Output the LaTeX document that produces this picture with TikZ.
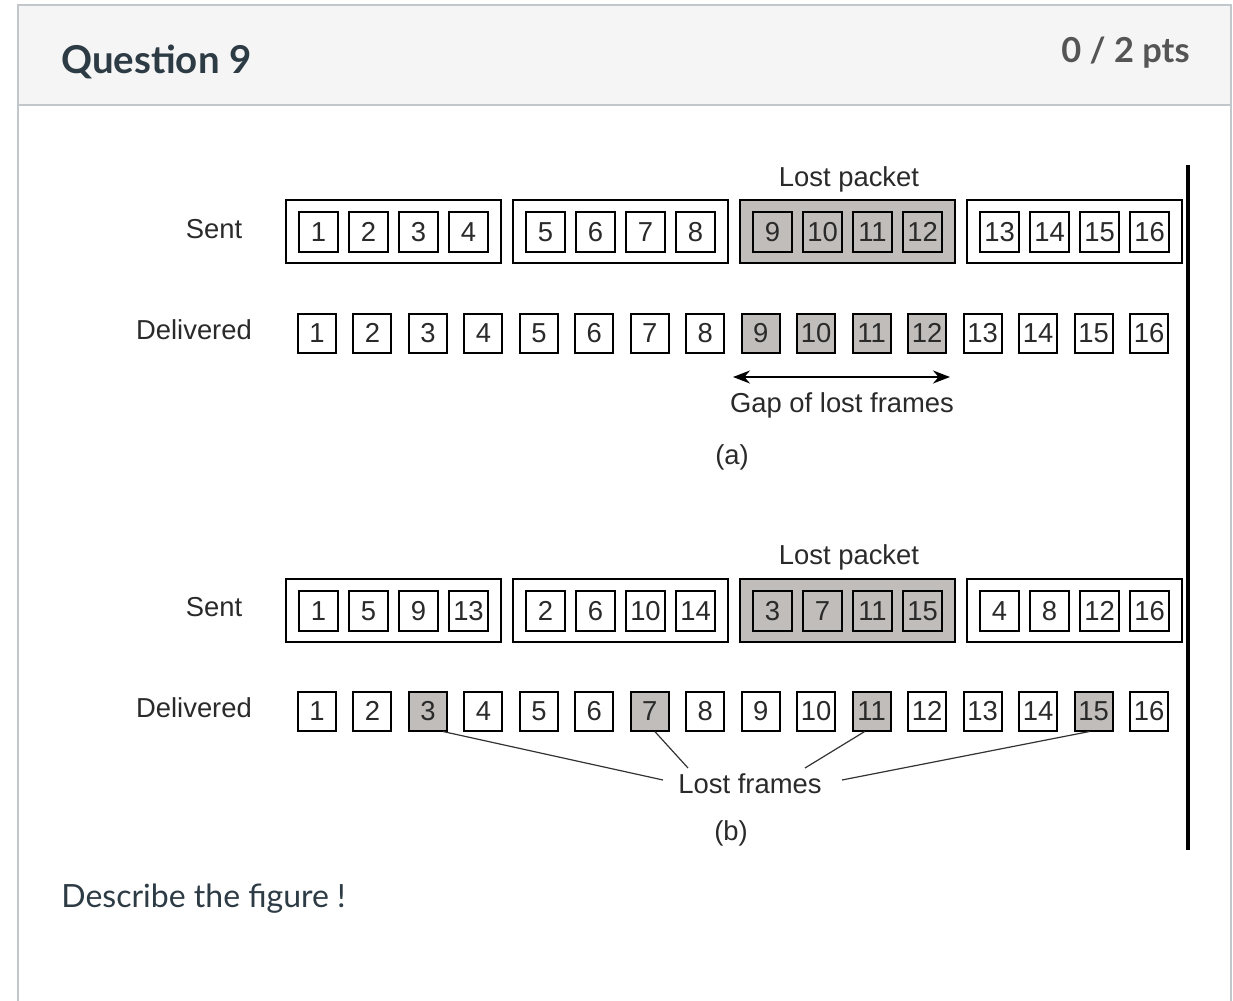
\documentclass[tikz,border=0pt]{standalone}
\usepackage{fontspec}
\setmainfont{Liberation Sans}
\newfontfamily\latofont{Lato}
\usetikzlibrary{arrows.meta}
\definecolor{lostgray}{HTML}{C0BDBA}
\definecolor{hdrbg}{HTML}{F5F5F5}
\definecolor{frameln}{HTML}{C2C7CB}
\definecolor{canvastext}{HTML}{2D3B45}
\definecolor{ptstext}{HTML}{555555}
\definecolor{figtext}{HTML}{2A2A2A}
\begin{document}
\begin{tikzpicture}[x=0.5pt,y=-0.5pt,
  fr/.style={draw=black, line width=1pt, minimum width=19.5pt, minimum height=20pt, inner sep=0pt, font=\fontsize{13.7}{14}\selectfont, text=figtext},
  dfr/.style={fr, minimum width=19pt, minimum height=19.5pt},
  pkt/.style={draw=black, line width=1pt, minimum width=107.5pt, minimum height=31.5pt, inner sep=0pt},
  lbl/.style={font=\fontsize{13.7}{14}\selectfont, text=figtext, inner sep=0pt},
  conn/.style={draw=black!80, line width=0.6pt}]
\useasboundingbox (0,0) rectangle (1233,1001);
\fill[white] (0,0) rectangle (1233,1001);
% card frame
\fill[hdrbg] (18,5) rectangle (1231,105);
\draw[frameln, line width=1pt] (18,1001) -- (18,5) -- (1231,5) -- (1231,1001);
\draw[frameln, line width=1pt] (18,105) -- (1231,105);
\node[anchor=base west, inner sep=0pt, text=canvastext, font=\latofont\bfseries\fontsize{19.2}{21}\selectfont] (qtitle) at (61,73) {Question 9};
\node[anchor=base east, inner sep=0pt, text=ptstext, font=\latofont\bfseries\fontsize{17.2}{19}\selectfont] (pts) at (1190,62) {0 / 2 pts};
\node[anchor=base west, inner sep=0pt, text=canvastext, font=\latofont\fontsize{16}{18}\selectfont] (desc) at (61,907) {Describe the figure !};
% vertical bar
\coordinate (bartop) at (1188,165);
\coordinate (barbot) at (1188,850);
\draw[line width=2pt] (bartop) -- (barbot);

% ---------- (a) ----------
\node[lbl] (a-sent) at (214,229) {Sent};
\node[lbl] (a-del) at (194,330) {Delivered};
\node[lbl] (a-lost) at (849,179) {Lost packet};
\foreach \p in {1,...,4}{
  \pgfmathsetmacro{\px}{286+227*(\p-1)+107.5}
  \ifnum\p=3 \def\pf{lostgray}\else\def\pf{white}\fi
  \node[pkt, fill=\pf] (a-p\p) at (\px,231.5) {};
  \foreach \i in {0,...,3}{
    \pgfmathtruncatemacro{\n}{4*(\p-1)+\i+1}
    \pgfmathsetmacro{\fx}{286+227*(\p-1)+13+50*\i+19.5}
    \node[fr, fill=\pf] (a-s\n) at (\fx,232) {\n};
  }
}
\foreach \k in {1,...,16}{
  \pgfmathsetmacro{\dx}{317+55.47*(\k-1)}
  \ifnum\k>8 \ifnum\k<13 \def\df{lostgray}\else\def\df{white}\fi \else\def\df{white}\fi
  \node[dfr, fill=\df] (a-d\k) at (\dx,333) {\k};
}
\coordinate (gapL) at (733,377);
\coordinate (gapR) at (950,377);
\draw[line width=1pt, {Stealth[length=8.5pt,width=6.5pt]}-{Stealth[length=8.5pt,width=6.5pt]}] (gapL) -- (gapR);
\node[lbl] (gaplbl) at (842,405) {Gap of lost frames};
\node[lbl] (a-cap) at (732,457) {(a)};

% ---------- (b) ----------
\node[lbl] (b-sent) at (214,607) {Sent};
\node[lbl] (b-del) at (194,708) {Delivered};
\node[lbl] (b-lost) at (849,557) {Lost packet};
\foreach \p in {1,...,4}{
  \pgfmathsetmacro{\px}{286+227*(\p-1)+107.5}
  \ifnum\p=3 \def\pf{lostgray}\else\def\pf{white}\fi
  \node[pkt, fill=\pf] (b-p\p) at (\px,610.5) {};
  \foreach \i in {0,...,3}{
    \pgfmathtruncatemacro{\n}{\p+4*\i}
    \pgfmathsetmacro{\fx}{286+227*(\p-1)+13+50*\i+19.5}
    \node[fr, fill=\pf] (b-s\n) at (\fx,611) {\n};
  }
}
\foreach \k in {1,...,16}{
  \pgfmathsetmacro{\dx}{317+55.47*(\k-1)}
  \pgfmathtruncatemacro{\r}{mod(\k,4)}
  \ifnum\r=3 \def\df{lostgray}\else\def\df{white}\fi
  \node[dfr, fill=\df] (b-d\k) at (\dx,711) {\k};
}
\node[lbl] (lostfr) at (750,784) {Lost frames};
\node[lbl] (b-cap) at (731,833) {(b)};
\coordinate (lf3) at (663,780);
\coordinate (lf7) at (688,768);
\coordinate (lf11) at (805,768);
\coordinate (lf15) at (842,780);
\draw[conn] ([xshift=-2.5pt]b-d3.south east) -- (lf3);
\draw[conn] ([xshift=2.5pt]b-d7.south) -- (lf7);
\draw[conn] ([xshift=-3.5pt]b-d11.south) -- (lf11);
\draw[conn] ([xshift=-2pt]b-d15.south) -- (lf15);
\end{tikzpicture}
\end{document}
